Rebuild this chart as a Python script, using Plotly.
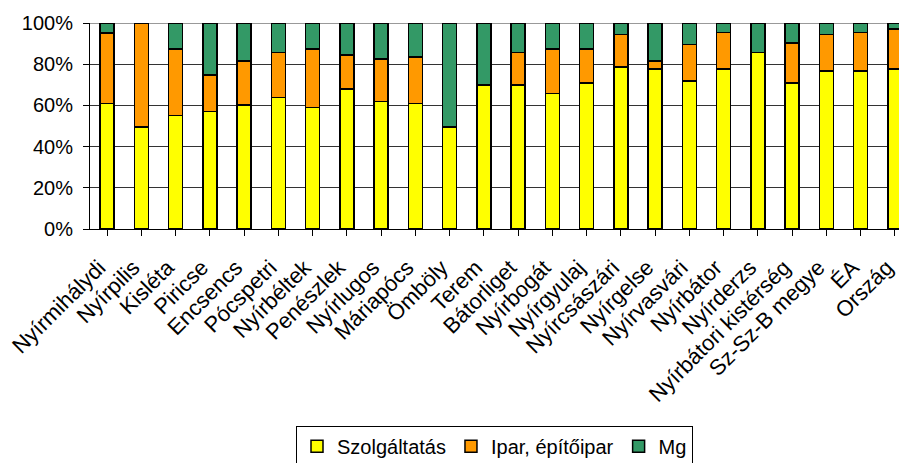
import plotly.graph_objects as go

categories = ["Nyírmihálydi", "Nyírpilis", "Kisléta", "Piricse", "Encsencs", "Pócspetri",
              "Nyírbéltek", "Penészlek", "Nyírlugos", "Máriapócs", "Ömböly", "Terem",
              "Bátorliget", "Nyírbogát", "Nyírgyulaj", "Nyírcsászári", "Nyírgelse",
              "Nyírvasvári", "Nyírbátor", "Nyírderzs", "Nyírbátori kistérség",
              "Sz-Sz-B megye", "ÉA", "Ország"]

szolgaltatas = [61.0, 49.5, 55.2, 57.1, 60.1, 63.8, 59.1, 67.9, 62.0, 61.0, 49.5, 70.0,
                70.0, 65.9, 70.9, 78.6, 77.6, 71.9, 77.6, 85.6, 70.9, 76.8, 76.8, 77.6]
ipar = [34.1, 50.5, 32.1, 17.6, 21.4, 21.8, 28.2, 16.5, 20.5, 22.6, 0.0, 0.0,
        15.6, 21.4, 16.4, 15.7, 3.9, 17.7, 17.7, 0.0, 19.5, 17.5, 18.5, 19.6]
mg = [4.9, 0.0, 12.7, 25.3, 18.5, 14.4, 12.7, 15.6, 17.5, 16.4, 50.5, 30.0,
      14.4, 12.7, 12.7, 5.7, 18.5, 10.4, 4.7, 14.4, 9.6, 5.7, 4.7, 2.8]

series = [("Szolgáltatás", szolgaltatas, "#FFFF00"),
          ("Ipar, építőipar", ipar, "#FF9900"),
          ("Mg", mg, "#339966")]

fig = go.Figure()
for name, vals, col in series:
    fig.add_trace(go.Bar(x=list(range(len(categories))), y=vals, name=name, width=0.41,
                         marker=dict(color=col, line=dict(color="black", width=1.5))))

FONT = "Liberation Sans, Arial, sans-serif"
fig.update_layout(
    width=899, height=463,
    barmode="stack",
    margin=dict(l=90, r=0, t=23, b=234, autoexpand=False),
    paper_bgcolor="white", plot_bgcolor="white",
    font=dict(family=FONT, size=19, color="black"),
    showlegend=True,
    legend=dict(orientation="h", x=0.5, xanchor="center", y=-0.955, yanchor="top",
                bordercolor="black", borderwidth=1, bgcolor="white",
                font=dict(size=20), itemwidth=30, traceorder="normal",
                tracegroupgap=0),
    xaxis=dict(range=[-0.5, 23.12], tickmode="array", automargin=False,
               tickvals=list(range(len(categories))), ticktext=categories,
               tickangle=-45, ticks="outside", tickson="boundaries", ticklen=6,
               ticklabeloverflow="allow", ticklabelstandoff=10, ticklabelshift=-8,
               tickcolor="black", showline=True, linecolor="black", linewidth=1,
               showgrid=False, tickfont=dict(size=22)),
    yaxis=dict(range=[0, 100], dtick=20, ticksuffix="%", ticks="outside", ticklen=6,
               automargin=False, ticklabelstandoff=6,
               tickcolor="black", showline=True, linecolor="black", linewidth=1,
               showgrid=True, gridcolor="#333333", gridwidth=1, zeroline=False,
               tickfont=dict(size=20)),
)
fig.add_shape(type="line", xref="paper", yref="y", x0=0, x1=1, y0=100, y1=100,
              line=dict(color="#999999", width=2), layer="below")

fig.write_html("out.html", config={"displayModeBar": False},
               post_script="document.body.style.margin='0px';document.body.style.padding='0px';")
